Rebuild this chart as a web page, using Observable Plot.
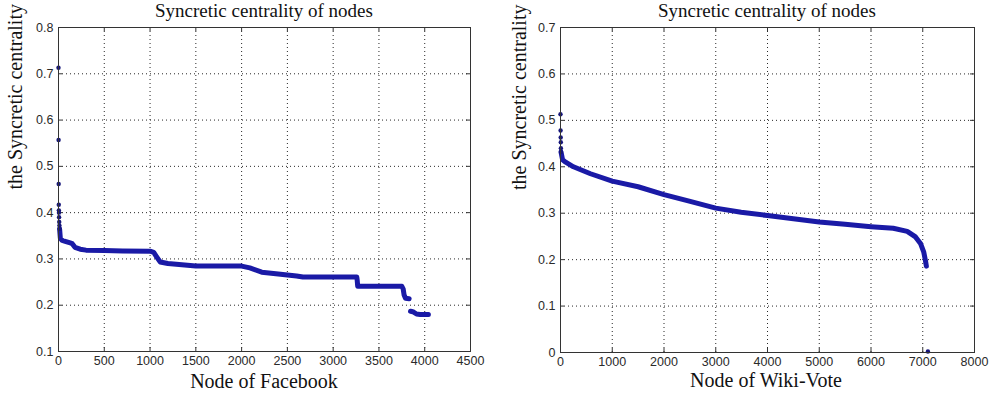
<!DOCTYPE html>
<html>
<head>
<meta charset="utf-8">
<script src="https://cdn.jsdelivr.net/npm/d3@7"></script>
<script src="https://cdn.jsdelivr.net/npm/@observablehq/plot@0.6"></script>
<style>
  html, body { margin: 0; padding: 0; background: #fff; }
  #wrap { position: relative; width: 990px; height: 398px; overflow: hidden; background: #fff; }
  #wrap > div.panel { position: absolute; top: 0; }
  .lbl { position: absolute; font-family: 'Liberation Serif', 'Times New Roman', serif; color: #111; white-space: nowrap; text-align: center; }
  .title { font-size: 19px; line-height: 21px; }
  .xlab { font-size: 20px; line-height: 20px; }
</style>
</head>
<body>
<div id="wrap">
  <div id="left" class="panel" style="left:0"></div>
  <div id="right" class="panel" style="left:495px"></div>
</div>
<script>
// ---------- Panel titles / labels ----------
const titleText = "Syncretic centrality of nodes";
const yLabelText = "the Syncretic centrality";
const fbXLabel = "Node of Facebook";
const wvXLabel = "Node of Wiki-Vote";

// ---------- Facebook panel ----------
const fbXTicks = [0, 500, 1000, 1500, 2000, 2500, 3000, 3500, 4000, 4500];
const fbYTicks = [0.1, 0.2, 0.3, 0.4, 0.5, 0.6, 0.7, 0.8];
// isolated top values (sorted nodes)
const fbDotNode  = [0, 1, 2, 3, 4, 5, 6, 8, 10, 12];
const fbDotValue = [0.713, 0.557, 0.462, 0.417, 0.405, 0.400, 0.390, 0.380, 0.372, 0.365];
// continuous part of the sorted curve
const fbNode  = [12, 20, 40, 73, 128, 150, 180, 237, 300, 500, 700, 1000, 1040, 1070, 1110, 1195, 1500, 2000, 2090, 2220, 2400, 2600, 2670, 3258, 3262, 3268, 3750, 3765, 3775, 3790, 3830,
                 3845, 3870, 3910, 3950, 4040];
const fbValue = [0.365, 0.345, 0.340, 0.338, 0.3345, 0.333, 0.325, 0.321, 0.319, 0.318, 0.317, 0.3166, 0.314, 0.305, 0.2935, 0.290, 0.2845, 0.2845, 0.2806, 0.2713, 0.2676, 0.2633, 0.261, 0.261, 0.255, 0.241, 0.241, 0.235, 0.222, 0.215, 0.214,
                 0.187, 0.186, 0.181, 0.180, 0.180];
const fbSeg   = [1,1,1,1,1,1,1,1,1,1,1,1,1,1,1,1,1,1,1,1,1,1,1,1,1,1,1,1,1,1,1, 2,2,2,2,2];

// ---------- Wiki-Vote panel ----------
const wvXTicks = [0, 1000, 2000, 3000, 4000, 5000, 6000, 7000, 8000];
const wvYTicks = [0, 0.1, 0.2, 0.3, 0.4, 0.5, 0.6, 0.7];
const wvDotNode  = [0, 2, 4, 6, 8, 10, 7100];
const wvDotValue = [0.513, 0.478, 0.463, 0.453, 0.440, 0.432, 0.002];
const wvNode  = [10, 40, 100, 250, 580, 1000, 1500, 2000, 2450, 3000, 3490, 4000, 4500, 5000, 5500, 6000, 6430, 6700, 6860, 6960, 7020, 7055, 7070];
const wvValue = [0.432, 0.415, 0.410, 0.400, 0.385, 0.369, 0.357, 0.340, 0.327, 0.311, 0.302, 0.295, 0.288, 0.281, 0.276, 0.271, 0.2675, 0.261, 0.249, 0.234, 0.216, 0.196, 0.186];

const lineColor = "#1a1aa6";
const dotColor = "#15157a";
const serif = "Liberation Serif";
const sans = "Liberation Sans";

function panel(cfg) {
  const innerW = cfg.width - cfg.ml - cfg.mr;
  const innerH = cfg.height - cfg.mt - cfg.mb;
  const lineData = cfg.node.map((n, i) => ({n, v: cfg.value[i], s: cfg.seg ? cfg.seg[i] : 1}));
  const dotData = cfg.dotNode.map((n, i) => ({n, v: cfg.dotValue[i]}));
  const fmt = d => String(d);
  const tk = 4;
  return Plot.plot({
    width: cfg.width, height: cfg.height,
    marginLeft: cfg.ml, marginRight: cfg.mr, marginTop: cfg.mt, marginBottom: cfg.mb,
    style: {background: "#fff", overflow: "visible"},
    x: {domain: cfg.xDomain, ticks: cfg.xTicks},
    y: {domain: cfg.yDomain, ticks: cfg.yTicks},
    marks: [
      Plot.gridX(cfg.xTicks, {stroke: "#111", strokeOpacity: 0.9, strokeDasharray: "1,3"}),
      Plot.gridY(cfg.yTicks, {stroke: "#111", strokeOpacity: 0.9, strokeDasharray: "1,3"}),
      // inward ticks on all four sides
      Plot.tickX(cfg.xTicks, {x: d => d, insetTop: innerH - tk, stroke: "#333"}),
      Plot.tickX(cfg.xTicks, {x: d => d, insetBottom: innerH - tk, stroke: "#333"}),
      Plot.tickY(cfg.yTicks, {y: d => d, insetRight: innerW - tk, stroke: "#333"}),
      Plot.tickY(cfg.yTicks, {y: d => d, insetLeft: innerW - tk, stroke: "#333"}),
      Plot.axisX(cfg.xTicks, {tickSize: 0, tickPadding: 5, tickFormat: fmt, fontSize: 12.5, fontFamily: sans, color: "#2a2a2a", label: null}),
      Plot.axisY(cfg.yTicks, {tickSize: 0, tickPadding: 5, tickFormat: fmt, fontSize: 12.5, fontFamily: sans, color: "#2a2a2a", label: null}),
      Plot.line(lineData, {x: "n", y: "v", z: "s", stroke: lineColor, strokeWidth: 5, strokeLinecap: "round", strokeLinejoin: "round"}),
      Plot.dot(dotData, {x: "n", y: "v", r: 2.2, fill: dotColor, stroke: "none"}),
      Plot.frame({stroke: "#333", strokeWidth: 1}),
      Plot.text([yLabelText], {frameAnchor: "left", lineAnchor: "bottom", rotate: -90, dx: cfg.yLabelDx, fontFamily: serif, fontSize: 20, fill: "#111"})
    ]
  });
}

function addLabel(parent, text, cls, centerX, top) {
  const d = document.createElement("div");
  d.className = "lbl " + cls;
  d.textContent = text;
  d.style.left = (centerX - 200) + "px";
  d.style.width = "400px";
  d.style.top = top + "px";
  parent.appendChild(d);
}

const wrap = document.getElementById("wrap");

document.getElementById("left").appendChild(panel({
  width: 495, height: 398, ml: 58, mr: 25, mt: 27, mb: 47,
  xDomain: [0, 4500], yDomain: [0.1, 0.8], xTicks: fbXTicks, yTicks: fbYTicks,
  node: fbNode, value: fbValue, seg: fbSeg, dotNode: fbDotNode, dotValue: fbDotValue,
  yLabelDx: -36.5
}));

document.getElementById("right").appendChild(panel({
  width: 495, height: 398, ml: 65, mr: 16, mt: 27, mb: 46,
  xDomain: [0, 8000], yDomain: [0, 0.7], xTicks: wvXTicks, yTicks: wvYTicks,
  node: wvNode, value: wvValue, seg: null, dotNode: wvDotNode, dotValue: wvDotValue,
  yLabelDx: -35
}));

addLabel(wrap, titleText, "title", 264, 0);
addLabel(wrap, titleText, "title", 767, 0);
addLabel(wrap, fbXLabel, "xlab", 264, 371);
addLabel(wrap, wvXLabel, "xlab", 766, 370);
</script>
</body>
</html>
